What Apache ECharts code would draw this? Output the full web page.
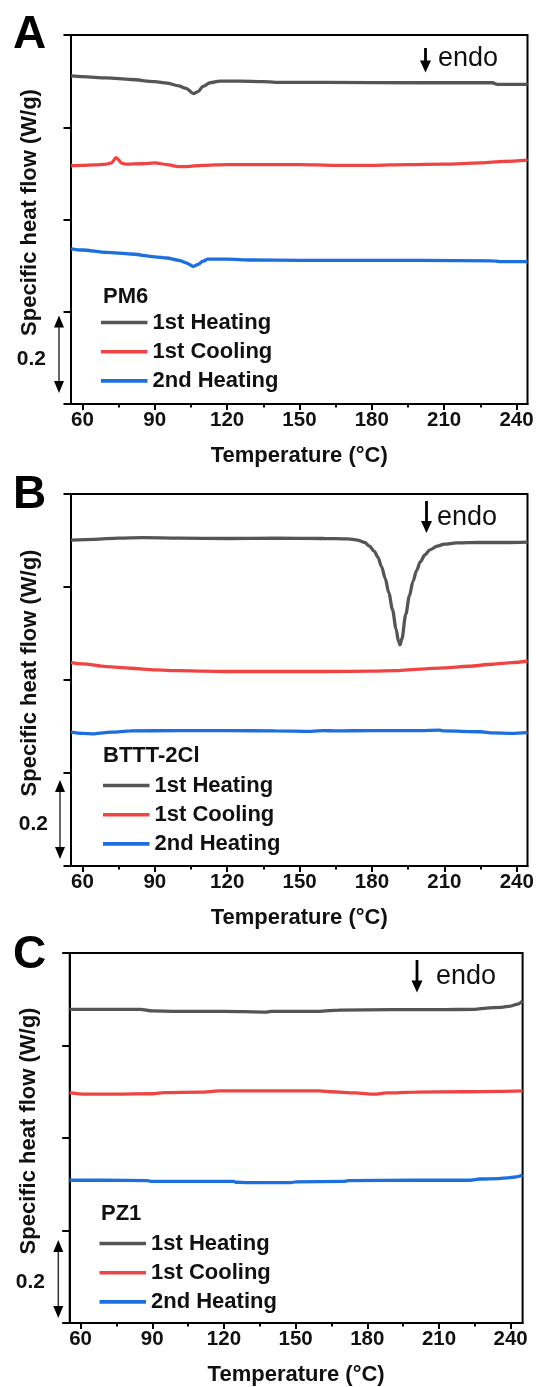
<!DOCTYPE html>
<html>
<head>
<meta charset="utf-8">
<script src="https://cdn.jsdelivr.net/npm/echarts@6/dist/echarts.min.js"></script>
<style>
  html, body { margin: 0; padding: 0; background: #fff; }
  #chart { width: 538px; height: 1387px; }
</style>
</head>
<body>
<div id="chart"></div>
<script>
// DSC heat-flow traces, [temperature (°C), heat flow (W/g, stacked offset)]
const materials = ['PM6', 'BTTT-2Cl', 'PZ1'];
const seriesNames = ['1st Heating', '1st Cooling', '2nd Heating'];
const seriesColors = ['#555555', '#ef4444', '#1e6fde'];
const majorTicks = [60, 90, 120, 150, 180, 210, 240];
const minorTicks = [75, 105, 135, 165, 195, 225];

const pm6Heat1 = [[55.3,0.818],[60,0.816],[70,0.813],[80,0.809],[90,0.804],[95,0.800],[100,0.793],[103,0.787],[106,0.774],[108,0.779],[110,0.792],[113,0.801],[117,0.805],[125,0.805],[135,0.804],[140,0.802],[160,0.802],[200,0.801],[230,0.801],[232,0.797],[244.6,0.797]];
const pm6Cool1 = [[55.3,0.594],[60,0.595],[65,0.596],[70,0.598],[72,0.601],[74,0.614],[75,0.609],[76,0.601],[78,0.598],[85,0.599],[90,0.601],[95,0.597],[100,0.592],[103,0.592],[110,0.595],[120,0.597],[150,0.597],[165,0.595],[180,0.595],[195,0.597],[210,0.598],[225,0.601],[235,0.605],[244.6,0.608]];
const pm6Heat2 = [[55.3,0.387],[60,0.384],[70,0.378],[80,0.374],[90,0.367],[95,0.364],[100,0.358],[103,0.352],[106,0.343],[108,0.348],[110,0.356],[112,0.361],[120,0.361],[130,0.359],[150,0.358],[200,0.358],[230,0.357],[233,0.355],[244.6,0.355]];

const btttHeat1 = [[55.3,0.806],[65,0.808],[75,0.811],[85,0.812],[100,0.811],[120,0.810],[140,0.811],[160,0.810],[170,0.809],[174,0.806],[177,0.800],[179,0.791],[181,0.778],[182.5,0.763],[184,0.740],[185.5,0.711],[187,0.675],[188.5,0.634],[190,0.586],[191,0.555],[191.6,0.547],[192.4,0.562],[194,0.622],[195.5,0.668],[197,0.704],[198.5,0.731],[200,0.752],[202,0.770],[204,0.782],[207,0.791],[210,0.796],[215,0.799],[225,0.800],[235,0.800],[244.5,0.801]];
const btttCool1 = [[55.3,0.503],[60,0.500],[70,0.493],[80,0.489],[90,0.485],[100,0.483],[110,0.482],[120,0.481],[140,0.481],[160,0.481],[180,0.482],[190,0.483],[200,0.487],[210,0.490],[220,0.494],[230,0.499],[238,0.503],[244.5,0.507]];
const btttHeat2 = [[55.3,0.331],[60,0.328],[65,0.327],[72,0.331],[80,0.334],[100,0.335],[120,0.335],[140,0.334],[155,0.333],[160,0.335],[165,0.334],[180,0.335],[200,0.335],[208,0.336],[210,0.334],[225,0.332],[230,0.329],[238,0.328],[244.5,0.330]];

const pz1Heat1 = [[55.4,0.780],[70,0.780],[85,0.780],[90,0.776],[100,0.775],[120,0.775],[138,0.773],[140,0.775],[160,0.775],[168,0.778],[190,0.779],[210,0.779],[225,0.780],[230,0.783],[236,0.785],[240,0.788],[243,0.793],[245,0.801]];
const pz1Cool1 = [[55.4,0.573],[62,0.569],[75,0.569],[90,0.570],[95,0.573],[110,0.574],[118,0.577],[140,0.577],[160,0.577],[165,0.575],[175,0.572],[183,0.569],[188,0.572],[200,0.574],[220,0.575],[235,0.576],[245,0.577]];
const pz1Heat2 = [[55.4,0.355],[70,0.355],[88,0.354],[90,0.352],[110,0.352],[124,0.352],[125,0.350],[130,0.349],[148,0.349],[150,0.351],[170,0.352],[172,0.354],[200,0.355],[223,0.355],[227,0.358],[235,0.359],[239,0.361],[242,0.363],[245,0.368]];

const traces = [
  [pm6Heat1, pm6Cool1, pm6Heat2],
  [btttHeat1, btttCool1, btttHeat2],
  [pz1Heat1, pz1Cool1, pz1Heat2]
];

const FONT = '"Liberation Sans", Arial, sans-serif';

// panel layout (pixels)
const panels = [
  { letter: 'A', left: 71, top: 35, width: 456.5, height: 369, xMin: 55.27, xMax: 244.56, letterY: 35,
    nameX: 103, nameY: 297, legendLeft: 101, legendTop: 311,
    endoX: 425.5, endoTop: 48, endoBottom: 72.5, endoTextX: 438, endoTextY: 58.5,
    barX: 59, barTop: 315.5, barBottom: 393, barLabelRight: 46, barLabelY: 359 },
  { letter: 'B', left: 71, top: 494, width: 456.5, height: 372, xMin: 55.28, xMax: 244.45, letterY: 495,
    nameX: 103, nameY: 755.5, legendLeft: 103, legendTop: 774,
    endoX: 426.5, endoTop: 501, endoBottom: 533, endoTextX: 437, endoTextY: 518,
    barX: 60, barTop: 780, barBottom: 859, barLabelRight: 48, barLabelY: 824 },
  { letter: 'C', left: 69.7, top: 953, width: 452.9, height: 373, xMin: 55.44, xMax: 245.0, letterY: 955,
    nameX: 101, nameY: 1214, legendLeft: 99.5, legendTop: 1232,
    endoX: 417, endoTop: 960, endoBottom: 992.5, endoTextX: 436, endoTextY: 977,
    barX: 58.3, barTop: 1240, barBottom: 1318, barLabelRight: 45, barLabelY: 1282.5 }
];

const grid = [], xAxis = [], yAxis = [], series = [], legend = [], graphic = [];

panels.forEach((p, i) => {
  grid.push({ left: p.left, top: p.top, width: p.width, height: p.height,
    show: true, borderColor: '#000', borderWidth: 2, backgroundColor: 'transparent' });

  // main temperature axis with labelled major ticks
  xAxis.push({
    type: 'value', gridIndex: i, min: p.xMin, max: p.xMax,
    name: 'Temperature (°C)', nameLocation: 'middle', nameGap: 41,
    nameTextStyle: { fontFamily: FONT, fontWeight: 'bold', fontSize: 22, color: '#111' },
    axisLine: { lineStyle: { color: '#000', width: 2 } },
    axisTick: { show: true, inside: false, length: 6, customValues: majorTicks, lineStyle: { color: '#000', width: 2 } },
    axisLabel: { customValues: majorTicks, margin: 6, fontFamily: FONT, fontWeight: 'bold', fontSize: 20.5, color: '#111' },
    splitLine: { show: false }
  });

  yAxis.push({
    type: 'value', gridIndex: i, min: 0, max: 0.92, interval: 0.23,
    name: 'Specific heat flow (W/g)', nameLocation: 'middle', nameGap: 30,
    nameTextStyle: { fontFamily: FONT, fontWeight: 'bold', fontSize: 22, color: '#111', padding: [0, 0, 0, 14] },
    axisLine: { show: true, lineStyle: { color: '#000', width: 2 } },
    axisTick: { show: true, inside: false, length: 7.5, lineStyle: { color: '#000', width: 2 } },
    axisLabel: { show: false },
    splitLine: { show: false }
  });

  traces[i].forEach((data, k) => {
    series.push({
      name: seriesNames[k], type: 'line', xAxisIndex: i, yAxisIndex: i,
      data: data, showSymbol: false, symbol: 'none', smooth: 0.3, smoothMonotone: 'x',
      lineStyle: { color: seriesColors[k], width: 3.3 },
      itemStyle: { color: seriesColors[k] },
      silent: true, z: 3
    });
  });

  legend.push({
    data: seriesNames, orient: 'vertical', left: p.legendLeft, top: p.legendTop,
    padding: 0, itemGap: 6.2, itemWidth: 46.5, itemHeight: 3.6, icon: 'rect',
    selectedMode: false,
    textStyle: { fontFamily: FONT, fontWeight: 'bold', fontSize: 22, color: '#111', lineHeight: 23 }
  });

  // panel letter
  graphic.push({ type: 'text', x: 13, y: p.letterY,
    style: { text: p.letter, font: 'bold 46px ' + FONT, fill: '#000', verticalAlign: 'middle' } });
  // material name above legend
  graphic.push({ type: 'text', x: p.nameX, y: p.nameY,
    style: { text: materials[i], font: 'bold 22px ' + FONT, fill: '#111', verticalAlign: 'middle' } });
  // endotherm direction marker
  graphic.push({ type: 'line', shape: { x1: p.endoX, y1: p.endoTop, x2: p.endoX, y2: p.endoBottom - 9 },
    style: { stroke: '#000', lineWidth: 2.8 } });
  graphic.push({ type: 'polygon', shape: { points: [[p.endoX - 5.5, p.endoBottom - 12], [p.endoX + 5.5, p.endoBottom - 12], [p.endoX, p.endoBottom]] },
    style: { fill: '#000' } });
  graphic.push({ type: 'text', x: p.endoTextX, y: p.endoTextY,
    style: { text: 'endo', font: '27px ' + FONT, fill: '#111', verticalAlign: 'middle' } });
  // 0.2 W/g scale bar
  graphic.push({ type: 'line', shape: { x1: p.barX, y1: p.barTop + 8, x2: p.barX, y2: p.barBottom - 8 },
    style: { stroke: '#333', lineWidth: 1.5 } });
  graphic.push({ type: 'polygon', shape: { points: [[p.barX, p.barTop], [p.barX - 5, p.barTop + 12], [p.barX + 5, p.barTop + 12]] },
    style: { fill: '#000' } });
  graphic.push({ type: 'polygon', shape: { points: [[p.barX, p.barBottom], [p.barX - 5, p.barBottom - 12], [p.barX + 5, p.barBottom - 12]] },
    style: { fill: '#000' } });
  graphic.push({ type: 'text', x: p.barLabelRight, y: p.barLabelY,
    style: { text: '0.2', font: 'bold 21px ' + FONT, fill: '#111', align: 'right', verticalAlign: 'middle' } });
});

// unlabelled minor ticks on the temperature axes
panels.forEach((p, i) => {
  xAxis.push({
    type: 'value', gridIndex: i, min: p.xMin, max: p.xMax, position: 'bottom',
    axisLine: { show: false },
    axisTick: { show: true, inside: false, length: 3.5, customValues: minorTicks, lineStyle: { color: '#000', width: 2 } },
    axisLabel: { show: false },
    splitLine: { show: false }
  });
});

const chart = echarts.init(document.getElementById('chart'), null, { renderer: 'canvas' });
chart.setOption({
  backgroundColor: '#fff',
  animation: false,
  grid, xAxis, yAxis, series, legend, graphic
});
</script>
</body>
</html>
